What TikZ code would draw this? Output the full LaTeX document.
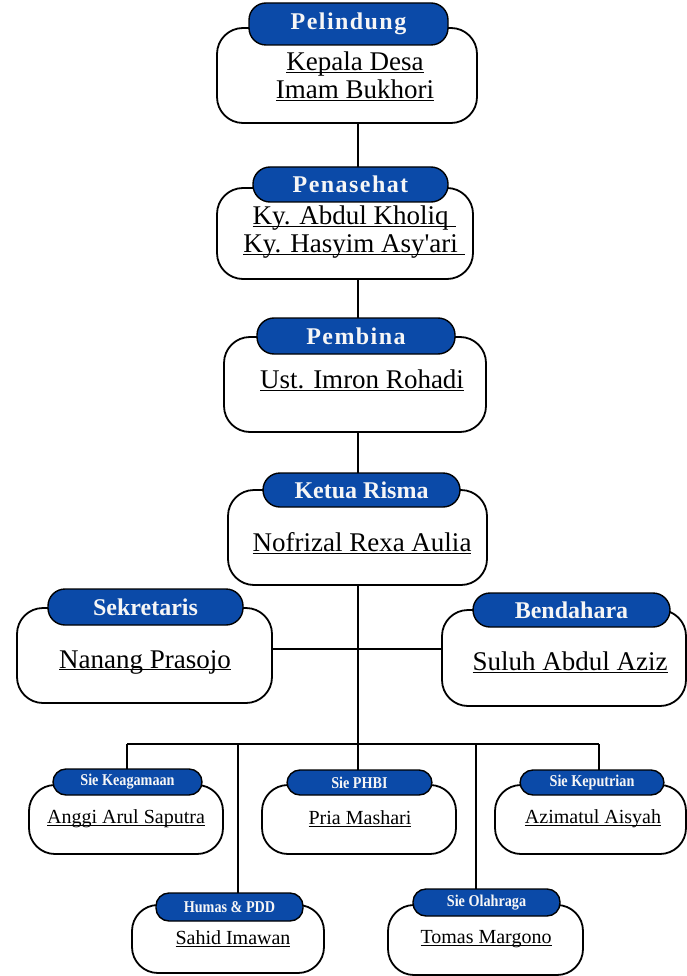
\documentclass[tikz,border=0pt]{standalone}
\usepackage{fontspec}
\setmainfont{Liberation Serif}
\definecolor{TagBlue}{HTML}{0B4AA8}
\definecolor{TagWhite}{HTML}{F6F6F6}
\usetikzlibrary{positioning}
\newcommand{\nm}[1]{\underline{\smash{#1}}\vphantom{#1}}
\newcommand{\spaced}{\addfontfeature{LetterSpace=6}}

\begin{document}
\begin{tikzpicture}[x=1pt,y=-1pt,
    card/.style={draw=black,line width=1.8pt,fill=white,rounded corners=26pt,inner sep=0pt},
    bigtag/.style={draw=black,line width=1.4pt,fill=TagBlue,rounded corners=17pt,inner sep=0pt,
                   text=TagWhite,font=\fontsize{24}{24}\selectfont\bfseries},
    smalltag/.style={draw=black,line width=1.4pt,fill=TagBlue,rounded corners=13pt,inner sep=0pt,
                     text=TagWhite,font=\fontsize{16.5}{17}\selectfont\bfseries\addfontfeature{FakeStretch=0.86}},
    bigname/.style={align=center,inner sep=0pt,font=\fontsize{27}{28}\selectfont},
    smallname/.style={inner sep=0pt,font=\fontsize{20}{20}\selectfont},
    link/.style={draw=black,line width=1.8pt}]
  \useasboundingbox (0,0) rectangle (687,976);

  % spine and bus
  \coordinate (spine) at (358,0);
  \coordinate (midrow) at (0,649);
  \coordinate (busL) at (127,744);
  \coordinate (busR) at (599,744);
  \coordinate (dropHum) at (238,744);
  \coordinate (dropOla) at (476,744);

  % cards
  \node[card,minimum width=260pt,minimum height=95pt] (pelBox) at (347,75.5) {};
  \node[card,minimum width=256pt,minimum height=91pt] (penBox) at (345,233.5) {};
  \node[card,minimum width=262pt,minimum height=95pt] (pemBox) at (355,384.5) {};
  \node[card,minimum width=259pt,minimum height=95pt] (ketBox) at (357.5,537.5) {};
  \node[card,minimum width=255pt,minimum height=95pt] (sekBox) at (144.5,655.5) {};
  \node[card,minimum width=244pt,minimum height=96pt] (benBox) at (564,658) {};
  \node[card,minimum width=194pt,minimum height=69pt] (keaBox) at (126,819.5) {};
  \node[card,minimum width=194pt,minimum height=69pt] (phbBox) at (359,819.5) {};
  \node[card,minimum width=191pt,minimum height=69pt] (kepBox) at (590.5,819.5) {};
  \node[card,minimum width=192pt,minimum height=68pt] (humBox) at (228,939) {};
  \node[card,minimum width=195pt,minimum height=70pt] (olaBox) at (485.5,940) {};

  % connectors
  \draw[link] (pelBox.south -| spine) -- (spine |- 0,167);
  \draw[link] (penBox.south -| spine) -- (spine |- 0,318);
  \draw[link] (pemBox.south -| spine) -- (spine |- 0,473);
  \draw[link] (ketBox.south -| spine) -- (spine |- 0,770);
  \draw[link] (sekBox.east |- midrow) -- (benBox.west |- midrow);
  \draw[link] (busL) -- (busR);
  \draw[link] (busL) -- (busL |- 0,769);
  \draw[link] (busR) -- (busR |- 0,770);
  \draw[link] (dropHum) -- (dropHum |- 0,893);
  \draw[link] (dropOla) -- (dropOla |- 0,889);

  % tags
  \node[bigtag,minimum width=199pt,minimum height=42pt] (pelTag) at (348.5,24) {\spaced Pelindung};
  \node[bigtag,minimum width=195pt,minimum height=35pt] (penTag) at (350.5,184.5) {\spaced Penasehat};
  \node[bigtag,minimum width=198pt,minimum height=36pt] (pemTag) at (356,336) {\spaced Pembina};
  \node[bigtag,minimum width=197pt,minimum height=34pt] (ketTag) at (361.5,490) {Ketua Risma};
  \node[bigtag,minimum width=195pt,minimum height=36pt] (sekTag) at (145.5,607) {Sekretaris};
  \node[bigtag,minimum width=197pt,minimum height=34pt] (benTag) at (571.5,610) {Bendahara};
  \node[smalltag,minimum width=149pt,minimum height=26pt] (keaTag) at (127.5,782) {Sie Keagamaan};
  \node[smalltag,minimum width=145pt,minimum height=25pt] (phbTag) at (359.5,782.5) {Sie PHBI};
  \node[smalltag,minimum width=144pt,minimum height=25pt] (kepTag) at (592,782.5) {Sie Keputrian};
  \node[smalltag,minimum width=147pt,minimum height=28pt] (humTag) at (229.5,907) {Humas \& PDD};
  \node[smalltag,minimum width=147pt,minimum height=27pt] (olaTag) at (486.5,902.5) {Sie Olahraga};

  % names
  \node[bigname] (pelName) at (355,76) {\nm{Kepala Desa}\\\nm{Imam Bukhori}};
  \node[bigname] (penName) at (354,232) {\nm{Ky. Abdul Kholiq\ }\\\nm{Ky. Hasyim Asy\textquotesingle ari\ }};
  \node[bigname] (pemName) at (362,380) {\nm{Ust. Imron Rohadi}};
  \node[bigname] (ketName) at (362,543) {\nm{Nofrizal Rexa Aulia}};
  \node[bigname] (sekName) at (145,662) {\nm{Nanang Prasojo}};
  \node[bigname] (benName) at (570,662) {\nm{Suluh Abdul Aziz}};
  \node[smallname] (keaName) at (126,819) {\nm{Anggi Arul Saputra}};
  \node[smallname] (phbName) at (360,819) {\nm{Pria Mashari}};
  \node[smallname] (kepName) at (593,819) {\nm{Azimatul Aisyah}};
  \node[smallname] (humName) at (233,939) {\nm{Sahid Imawan}};
  \node[smallname] (olaName) at (486,939) {\nm{Tomas Margono}};
\end{tikzpicture}
\end{document}
